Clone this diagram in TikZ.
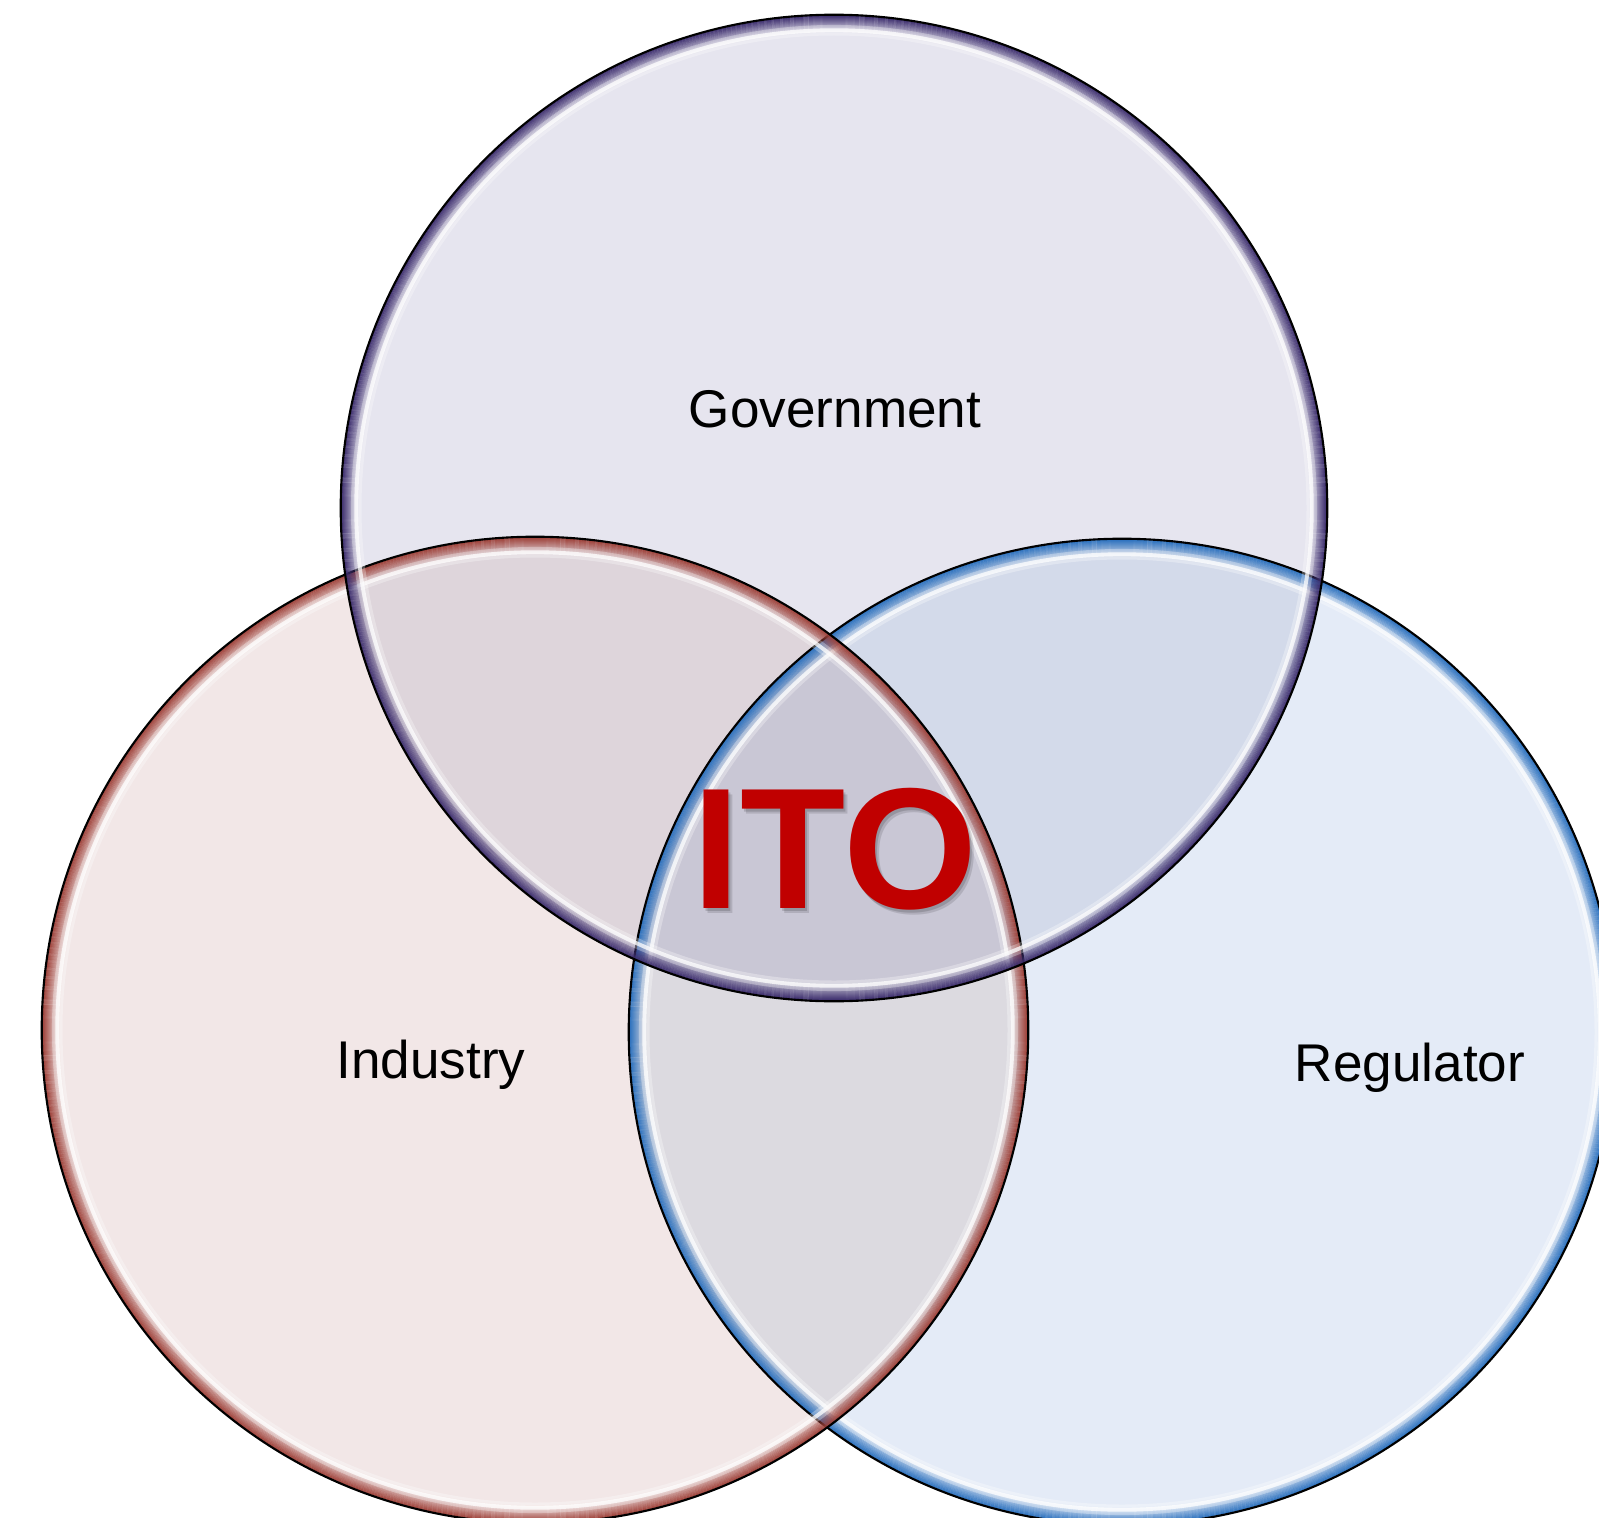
\documentclass[tikz,border=0pt]{standalone}
\usepackage{fontspec}
\setmainfont{Liberation Sans}
\definecolor{govfill}{HTML}{E6E5EF}
\definecolor{indfill}{HTML}{F2E7E7}
\definecolor{regfill}{HTML}{E4EBF7}
\definecolor{gifill}{HTML}{DED5DB}
\definecolor{grfill}{HTML}{D3DAEA}
\definecolor{irfill}{HTML}{DCDAE0}
\definecolor{girfill}{HTML}{C9C7D5}
\definecolor{govrim}{HTML}{3D2E6E}
\definecolor{indrim}{HTML}{9E4038}
\definecolor{regrim}{HTML}{2A70BE}
\definecolor{itored}{HTML}{C00000}
\newcommand\drawrim[2]{%
  \foreach \i in {0,...,17}{%
    \pgfmathsetmacro\rr{4.925-\i*0.01}%
    \pgfmathsetmacro\op{(1-\i/18)^1.3}%
    \draw[draw=#1, line width=0.34pt, draw opacity=\op] (#2) circle[radius=\rr cm];
  }
  \draw[white, line width=3pt, draw opacity=0.3] (#2) circle[radius=4.775cm];
  \draw[white, line width=1.1pt, draw opacity=0.75] (#2) circle[radius=4.775cm];
  \draw[black, line width=0.6pt] (#2) circle[radius=4.93cm];
}
\tikzset{
  label/.style={font=\fontsize{15.1}{18}\selectfont, text=black, anchor=base, inner sep=0pt},
  bigito/.style={font=\bfseries\fontsize{49}{56}\selectfont, anchor=base, inner sep=0pt}
}
\begin{document}
\begin{tikzpicture}[x=0.01cm,y=-0.01cm]
\useasboundingbox (0,0) rectangle (1599,1518);
\clip (0,0) rectangle (1599,1518);
\coordinate (gc) at (834,508);
\coordinate (ic) at (535,1030);
\coordinate (rc) at (1122,1032);
\def\R{4.93cm}
% base fills
\fill[govfill] (gc) circle[radius=\R];
\fill[indfill] (ic) circle[radius=\R];
\fill[regfill] (rc) circle[radius=\R];
% industry & regulator overlap
\begin{scope}
  \clip (ic) circle[radius=\R];
  \fill[irfill] (rc) circle[radius=\R];
\end{scope}
% government overlaps
\begin{scope}
  \clip (gc) circle[radius=\R];
  \fill[gifill] (ic) circle[radius=\R];
  \fill[grfill] (rc) circle[radius=\R];
  \clip (ic) circle[radius=\R];
  \fill[girfill] (rc) circle[radius=\R];
\end{scope}
% rims
\drawrim{regrim}{rc}
\drawrim{indrim}{ic}
\drawrim{govrim}{gc}
% labels
\node[label] (gov) at (835,427) {Government};
\node[label] (ind) at (431,1078) {Industry};
\node[label] (reg) at (1410,1081) {Regulator};
\node[bigito, text=black, opacity=0.12] (itoshadowa) at (839,913) {ITO};
\node[bigito, text=black, opacity=0.15] (itoshadowb) at (837,911) {ITO};
\node[bigito, text=itored] (ito) at (835,908) {ITO};
\end{tikzpicture}
\end{document}
